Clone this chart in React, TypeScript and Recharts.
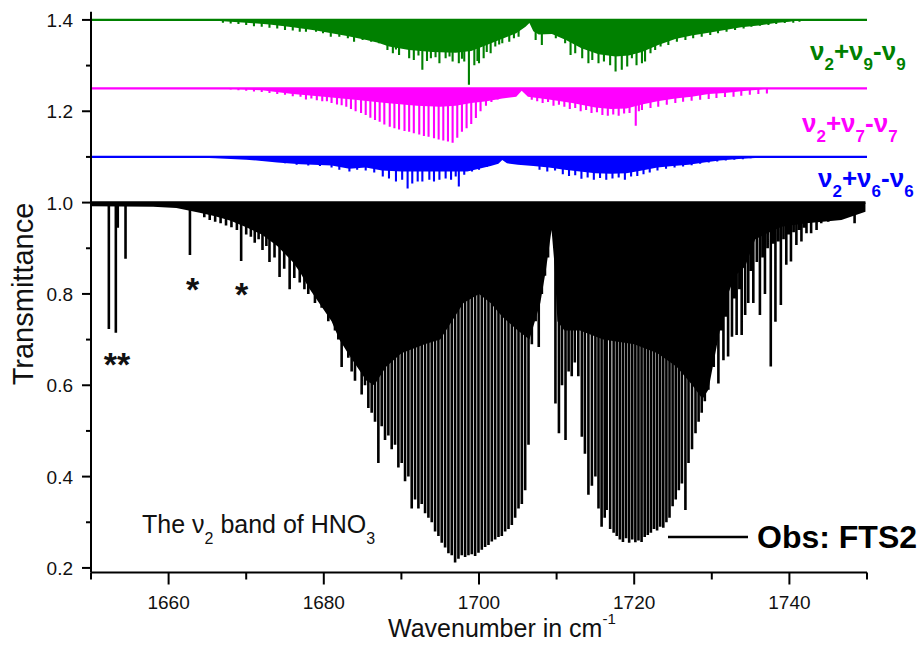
import React from 'react';
import { ComposedChart, Line, Area, XAxis, YAxis } from 'recharts';

const FONT = '"Liberation Sans", Arial, Helvetica, sans-serif';

// Axis ticks
const xTicks = [1650, 1660, 1670, 1680, 1690, 1700, 1710, 1720, 1730, 1740, 1750];
const xLabelled = [1660, 1680, 1700, 1720, 1740];
const yTicks = [0.2, 0.3, 0.4, 0.5, 0.6, 0.7, 0.8, 0.9, 1.0, 1.1, 1.2, 1.3, 1.4];
const yLabelled = [0.2, 0.4, 0.6, 0.8, 1.0, 1.2, 1.4];

// Offsets of each trace
const obsBase = 1.0;
const nu9Base = 1.4;
const nu7Base = 1.25;
const nu6Base = 1.1;

// Observed FTS2 spectrum: blended (unresolved) absorption floor [wavenumber, transmittance]
const obsFloor: [number, number][] = [
  [1650, 0.992], [1658, 0.991], [1661, 0.988], [1664, 0.978], [1666, 0.97], [1668, 0.96],
  [1670, 0.946], [1672, 0.93], [1674, 0.905], [1676, 0.87], [1677, 0.846], [1678, 0.815],
  [1679, 0.79], [1681, 0.74], [1682, 0.7], [1683.3, 0.665], [1685.5, 0.61], [1686.5, 0.6],
  [1688, 0.64], [1690, 0.67], [1693, 0.69], [1695, 0.7], [1696.5, 0.74], [1698, 0.78],
  [1700, 0.8], [1701.5, 0.78], [1703, 0.75], [1705, 0.72], [1706.5, 0.7], [1707.2, 0.74],
  [1707.9, 0.78], [1708.6, 0.85], [1709.35, 0.94], [1709.75, 0.86], [1710.1, 0.74],
  [1711, 0.72], [1713, 0.72], [1716, 0.7], [1720, 0.69], [1723, 0.67], [1725.5, 0.64],
  [1727.5, 0.6], [1728.8, 0.57], [1729.56, 0.59], [1730.85, 0.705], [1732.1, 0.8],
  [1733, 0.84], [1734.3, 0.86], [1735.6, 0.92], [1737.3, 0.934], [1739, 0.947],
  [1742.2, 0.955], [1746.7, 0.962], [1749.8, 0.98],
];

// Observed spectrum: individual line minima [wavenumber, transmittance]
const obsLines: [number, number][] = [
  [1652.3, 0.723], [1653.2, 0.715], [1653.45, 0.945], [1654.45, 0.877], [1662.75, 0.885],
  [1664.6, 0.968], [1665.3, 0.962], [1666.0, 0.958], [1666.7, 0.955], [1667.4, 0.95],
  [1668.1, 0.946], [1668.8, 0.94], [1669.35, 0.872], [1670.0, 0.93], [1670.6, 0.925],
  [1671.1, 0.912], [1671.6, 0.92], [1672.1, 0.896], [1672.6, 0.905], [1673.0, 0.87],
  [1673.65, 0.88], [1674.3, 0.837], [1674.9, 0.855], [1675.6, 0.81], [1676.2, 0.835],
  [1676.9, 0.825], [1677.5, 0.81],
  // P branch
  [1678.0, 0.8], [1678.43, 0.84], [1678.86, 0.78], [1679.29, 0.82], [1679.72, 0.77],
  [1680.15, 0.8], [1680.58, 0.74], [1681.01, 0.78], [1681.44, 0.72], [1681.87, 0.7],
  [1682.3, 0.64], [1682.73, 0.69], [1683.16, 0.66], [1683.59, 0.63], [1684.02, 0.61],
  [1684.45, 0.64], [1684.88, 0.58], [1685.31, 0.6], [1685.74, 0.55], [1686.17, 0.54],
  [1686.6, 0.52], [1687.03, 0.43], [1687.46, 0.51], [1687.89, 0.48], [1688.32, 0.49],
  [1688.75, 0.46], [1689.18, 0.47], [1689.61, 0.42], [1690.04, 0.43], [1690.47, 0.39],
  [1690.9, 0.4], [1691.33, 0.33], [1691.76, 0.35], [1692.19, 0.33], [1692.62, 0.34],
  [1693.05, 0.32], [1693.48, 0.31], [1693.91, 0.3], [1694.34, 0.28], [1694.77, 0.27],
  [1695.2, 0.255], [1695.63, 0.245], [1696.06, 0.232], [1696.49, 0.228], [1696.92, 0.212],
  [1697.35, 0.22], [1697.78, 0.228], [1698.21, 0.224], [1698.64, 0.228], [1699.07, 0.23],
  [1699.5, 0.226], [1699.93, 0.233], [1700.36, 0.24], [1700.79, 0.246], [1701.22, 0.25],
  [1701.65, 0.258], [1702.08, 0.262], [1702.51, 0.268], [1702.94, 0.27], [1703.37, 0.28],
  [1703.8, 0.285], [1704.23, 0.294], [1704.66, 0.31], [1705.09, 0.33], [1705.52, 0.34],
  [1705.95, 0.37], [1706.38, 0.47], [1706.81, 0.69], [1707.3, 0.74], [1707.7, 0.684],
  [1708.1, 0.8], [1708.5, 0.84], [1708.9, 0.88],
  // R branch
  [1709.85, 0.56], [1710.3, 0.495], [1710.7, 0.6], [1711.15, 0.48], [1711.55, 0.63],
  [1711.95, 0.62], [1712.35, 0.65], [1712.8, 0.62], [1713.25, 0.487], [1713.65, 0.45],
  [1714.1, 0.36], [1714.55, 0.38], [1715.0, 0.4], [1715.4, 0.33], [1715.8, 0.29],
  [1716.2, 0.31], [1716.45, 0.327], [1716.9, 0.285], [1717.35, 0.277], [1717.75, 0.27],
  [1718.15, 0.262], [1718.55, 0.257], [1718.95, 0.265], [1719.35, 0.255], [1719.75, 0.262],
  [1720.15, 0.256], [1720.55, 0.26], [1720.95, 0.257], [1721.35, 0.268], [1721.75, 0.272],
  [1722.15, 0.277], [1722.55, 0.285], [1722.95, 0.282], [1723.35, 0.29], [1723.75, 0.288],
  [1724.15, 0.3], [1724.55, 0.31], [1724.95, 0.335], [1725.35, 0.35], [1725.75, 0.37],
  [1726.15, 0.385], [1726.6, 0.327], [1727.0, 0.43], [1727.45, 0.46], [1727.9, 0.495],
  [1728.3, 0.52], [1728.7, 0.54], [1729.1, 0.565],
  [1729.56, 0.59], [1729.9, 0.66], [1730.25, 0.64], [1730.85, 0.604], [1731.2, 0.72],
  [1731.5, 0.655], [1731.8, 0.75], [1732.1, 0.663], [1732.6, 0.706], [1732.9, 0.79],
  [1733.2, 0.71], [1733.55, 0.81], [1733.85, 0.71], [1734.3, 0.754], [1734.7, 0.78],
  [1735.05, 0.85], [1735.35, 0.78], [1735.8, 0.87], [1736.2, 0.754], [1736.55, 0.88],
  [1736.85, 0.8], [1737.2, 0.9], [1737.6, 0.641], [1737.9, 0.91], [1738.2, 0.739],
  [1738.55, 0.915], [1738.9, 0.776], [1739.25, 0.92], [1739.6, 0.864], [1739.9, 0.93],
  [1740.2, 0.871], [1740.55, 0.935], [1740.9, 0.907], [1741.25, 0.94], [1741.55, 0.915],
  [1741.9, 0.945], [1742.2, 0.933], [1742.8, 0.933], [1743.5, 0.94], [1744.1, 0.955],
  [1744.6, 0.96], [1745.0, 0.958], [1745.4, 0.965], [1745.85, 0.962], [1746.3, 0.97],
  [1746.7, 0.966], [1747.1, 0.972], [1747.55, 0.969], [1748.0, 0.975], [1748.4, 0.955],
  [1748.8, 0.978], [1749.2, 0.98],
];

// Simulated v2+v9-v9 hot band (offset to 1.4)
const nu9Floor: [number, number][] = [
  [1650, 1.4], [1665, 1.4], [1667, 1.397], [1670, 1.394], [1673, 1.39], [1676, 1.384],
  [1679, 1.377], [1681, 1.371], [1683, 1.365], [1685.5, 1.356], [1687, 1.35], [1688.4, 1.342],
  [1691, 1.334], [1694, 1.33], [1697, 1.328], [1699, 1.332], [1701, 1.345], [1702.6, 1.356],
  [1704.8, 1.371], [1706, 1.385], [1706.5, 1.393], [1707, 1.375], [1707.7, 1.368],
  [1709.4, 1.369], [1711.2, 1.356], [1713.2, 1.338], [1715.4, 1.325], [1717.6, 1.32],
  [1719.3, 1.322], [1721, 1.33], [1723.1, 1.345], [1725.3, 1.358], [1727.4, 1.366],
  [1729.6, 1.372], [1731.7, 1.378], [1733.8, 1.384], [1736, 1.388], [1738.2, 1.393],
  [1740, 1.396], [1741.5, 1.4], [1750, 1.4],
];
const nu9Lines: [number, number][] = [
  [1667.0, 1.394], [1668.0, 1.392], [1669.0, 1.391], [1670.0, 1.389], [1671.0, 1.386],
  [1672.0, 1.385], [1673.0, 1.383], [1674.0, 1.381], [1675.0, 1.378], [1676.0, 1.377],
  [1676.9, 1.374], [1677.7, 1.374], [1679.0, 1.374], [1679.9, 1.371], [1680.9, 1.363],
  [1682.0, 1.363], [1683.1, 1.36], [1683.9, 1.352], [1685.0, 1.356], [1686.1, 1.352],
  [1687.1, 1.349], [1688.2, 1.334], [1688.9, 1.327], [1689.3, 1.335], [1689.7, 1.323],
  [1690.4, 1.342], [1691.0, 1.316], [1691.6, 1.312], [1692.2, 1.322], [1692.7, 1.291],
  [1693.3, 1.31], [1693.8, 1.316], [1694.4, 1.318], [1694.9, 1.305], [1695.7, 1.316],
  [1696.2, 1.32], [1696.6, 1.309], [1697.4, 1.305], [1697.8, 1.315], [1698.1, 1.309],
  [1698.7, 1.258], [1699.4, 1.301], [1699.8, 1.31], [1700.0, 1.305], [1700.6, 1.316],
  [1701.0, 1.33], [1701.5, 1.327], [1702.1, 1.342], [1702.6, 1.346], [1703.0, 1.349],
  [1703.9, 1.352], [1704.5, 1.36], [1705.1, 1.363],
  [1707.3, 1.356], [1708.1, 1.345], [1709.9, 1.36], [1711.1, 1.349], [1711.8, 1.323],
  [1712.4, 1.327], [1713.3, 1.316], [1714.1, 1.305], [1714.6, 1.312], [1715.4, 1.305],
  [1716.1, 1.309], [1716.9, 1.301], [1717.6, 1.287], [1718.4, 1.291], [1719.1, 1.298],
  [1719.7, 1.316], [1720.3, 1.301], [1721.0, 1.305], [1721.4, 1.309], [1722.1, 1.327],
  [1722.7, 1.334], [1723.4, 1.342], [1724.4, 1.345], [1725.5, 1.352], [1726.6, 1.356],
  [1727.6, 1.36], [1728.7, 1.363], [1729.8, 1.367], [1730.8, 1.371], [1731.9, 1.374],
  [1733.0, 1.378], [1734.1, 1.381], [1735.1, 1.385], [1736.2, 1.387], [1737.3, 1.389],
  [1738.3, 1.391], [1739.4, 1.393], [1740.5, 1.394], [1741.3, 1.396],
];

// Simulated v2+v7-v7 hot band (offset to 1.25)
const nu7Floor: [number, number][] = [
  [1650, 1.25], [1667, 1.25], [1672, 1.246], [1676, 1.238], [1680, 1.232], [1684, 1.225],
  [1688, 1.218], [1692, 1.212], [1695, 1.21], [1697, 1.212], [1699, 1.218], [1701, 1.222],
  [1703, 1.228], [1704.8, 1.232], [1705.5, 1.245], [1706.3, 1.232], [1709, 1.226],
  [1712, 1.218], [1715, 1.208], [1717, 1.205], [1719, 1.206], [1721, 1.215], [1723, 1.222],
  [1725.3, 1.228], [1727.4, 1.232], [1729.6, 1.238], [1731.7, 1.24], [1733.8, 1.244],
  [1736, 1.247], [1737.3, 1.25], [1750, 1.25],
];
const nu7Lines: [number, number][] = [
  [1668.0, 1.247], [1669.0, 1.246], [1670.0, 1.245], [1671.0, 1.243], [1672.0, 1.242],
  [1673.0, 1.24], [1674.0, 1.238], [1675.0, 1.236], [1676.0, 1.233], [1677.0, 1.232],
  [1677.7, 1.226], [1678.4, 1.228], [1679.1, 1.224], [1679.8, 1.222], [1680.4, 1.222],
  [1681.0, 1.218], [1681.7, 1.215], [1682.3, 1.213], [1682.9, 1.21], [1683.5, 1.205],
  [1684.1, 1.2], [1684.8, 1.196], [1685.4, 1.192], [1686.0, 1.186], [1686.6, 1.181],
  [1687.2, 1.177], [1687.8, 1.171], [1688.5, 1.166], [1689.1, 1.163], [1689.7, 1.16],
  [1690.4, 1.157], [1691.0, 1.155], [1691.6, 1.152], [1692.3, 1.149], [1692.9, 1.146],
  [1693.5, 1.144], [1694.2, 1.141], [1694.8, 1.138], [1695.4, 1.136], [1696.0, 1.134],
  [1696.6, 1.131], [1697.2, 1.142], [1697.8, 1.155], [1698.4, 1.163], [1699.0, 1.172],
  [1699.6, 1.185], [1700.2, 1.2], [1700.9, 1.212], [1701.6, 1.22], [1702.4, 1.226],
  [1703.2, 1.23], [1704.0, 1.234],
  [1706.8, 1.225], [1707.5, 1.222], [1708.2, 1.218], [1708.9, 1.22], [1709.6, 1.212],
  [1710.3, 1.214], [1711.0, 1.21], [1711.7, 1.205], [1712.4, 1.207], [1713.1, 1.2],
  [1713.8, 1.203], [1714.5, 1.196], [1715.2, 1.198], [1715.9, 1.192], [1716.6, 1.19],
  [1717.3, 1.193], [1718.0, 1.19], [1718.7, 1.195], [1719.4, 1.196], [1720.2, 1.168],
  [1720.6, 1.2], [1721.0, 1.203], [1722.1, 1.207], [1723.1, 1.21], [1724.2, 1.214],
  [1725.3, 1.218], [1726.3, 1.221], [1727.4, 1.223], [1728.5, 1.225], [1729.6, 1.227],
  [1730.6, 1.229], [1731.7, 1.231], [1732.8, 1.232], [1733.8, 1.234], [1734.9, 1.236],
  [1736.0, 1.238], [1737.1, 1.239],
];

// Simulated v2+v6-v6 hot band (offset to 1.1)
const nu6Floor: [number, number][] = [
  [1650, 1.1], [1662, 1.1], [1666, 1.097], [1670, 1.094], [1674, 1.088], [1677, 1.084],
  [1681, 1.081], [1683.3, 1.074], [1685.4, 1.077], [1687.5, 1.07], [1690, 1.068],
  [1693, 1.068], [1696, 1.068], [1698.5, 1.068], [1700, 1.074], [1701.5, 1.08],
  [1702.5, 1.085], [1703, 1.093], [1703.6, 1.086], [1705, 1.083], [1707, 1.08],
  [1709, 1.077], [1711, 1.072], [1713, 1.068], [1715, 1.064], [1717, 1.063], [1719, 1.064],
  [1721, 1.07], [1723, 1.077], [1725, 1.08], [1727, 1.083], [1729, 1.088], [1731, 1.092],
  [1733, 1.095], [1735, 1.097], [1737.3, 1.099], [1738, 1.1], [1750, 1.1],
];
const nu6Lines: [number, number][] = [
  [1672.0, 1.092], [1673.5, 1.09], [1675.0, 1.086], [1676.5, 1.083], [1678.0, 1.081],
  [1679.5, 1.08], [1681.0, 1.077], [1682.0, 1.072], [1683.3, 1.068], [1684.3, 1.072],
  [1685.4, 1.07], [1686.5, 1.066], [1687.6, 1.057], [1688.4, 1.053], [1689.3, 1.046],
  [1690.1, 1.05], [1690.8, 1.031], [1691.4, 1.042], [1692.1, 1.046], [1692.7, 1.046],
  [1693.6, 1.05], [1694.2, 1.046], [1694.9, 1.05], [1695.7, 1.053], [1696.4, 1.05],
  [1697.0, 1.057], [1697.4, 1.035], [1698.1, 1.061], [1699.1, 1.068], [1700.0, 1.072],
  [1701.0, 1.078],
  [1707.8, 1.072], [1708.8, 1.068], [1709.8, 1.07], [1710.8, 1.062], [1711.6, 1.058],
  [1712.4, 1.06], [1713.2, 1.052], [1714.0, 1.055], [1714.8, 1.05], [1715.6, 1.054],
  [1716.4, 1.05], [1717.2, 1.053], [1718.0, 1.055], [1718.8, 1.05], [1719.6, 1.057],
  [1720.4, 1.058], [1721.2, 1.062], [1722.0, 1.066], [1723.0, 1.07], [1724.1, 1.074],
  [1725.2, 1.077], [1726.3, 1.079], [1727.4, 1.082], [1728.5, 1.085], [1729.6, 1.088],
  [1730.7, 1.09], [1731.8, 1.092], [1732.9, 1.094], [1734.0, 1.095], [1735.0, 1.097],
  [1736.1, 1.098],
];

const GREEN = '#008000';
const MAGENTA = '#ff00ff';
const BLUE = '#0000ff';

// Range band between the blended absorption floor and the trace baseline
const bandData = (floor: [number, number][], base: number) =>
  floor.map(([x, t]) => ({ x, band: [t, base] }));

// Trace that drops from the baseline to each line minimum and back
const traceData = (lines: [number, number][], base: number, from: number, to: number) => {
  const sorted = [...lines].sort((a, b) => a[0] - b[0]);
  const pts: { x: number; y: number }[] = [{ x: from, y: base }];
  sorted.forEach(([x, t]) => {
    pts.push({ x, y: base }, { x, y: t }, { x, y: base });
  });
  pts.push({ x: to, y: base });
  return pts;
};

const XTick = (props: any) => {
  const { x, y, payload } = props;
  const major = xLabelled.includes(payload.value);
  return (
    <g>
      <line x1={x} x2={x} y1={y} y2={y + (major ? 12 : 7)} stroke="#000" strokeWidth={2} />
      {major && (
        <text x={x} y={y + 36.5} textAnchor="middle" fontSize={19} fontFamily={FONT} fill="#111">
          {payload.value}
        </text>
      )}
    </g>
  );
};

const YTick = (props: any) => {
  const { x, y, payload } = props;
  const v = Number(payload.value);
  const major = yLabelled.some((t) => Math.abs(t - v) < 1e-6);
  return (
    <g>
      <line x1={x - (major ? 9 : 5)} x2={x} y1={y} y2={y} stroke="#000" strokeWidth={2} />
      {major && (
        <text x={x - 18} y={y + 7} textAnchor="end" fontSize={19} fontFamily={FONT} fill="#111">
          {v.toFixed(1)}
        </text>
      )}
    </g>
  );
};

const BandLabel = ({ x, y, color, a, b }: { x: number; y: number; color: string; a: string; b: string }) => (
  <text x={x} y={y} fill={color} fontFamily={FONT} fontWeight="bold" fontSize={26}>
    ν
    <tspan fontSize={17} dy={10}>2</tspan>
    <tspan fontSize={26} dy={-10}>+ν</tspan>
    <tspan fontSize={17} dy={10}>{a}</tspan>
    <tspan fontSize={26} dy={-10}>-ν</tspan>
    <tspan fontSize={17} dy={10}>{b}</tspan>
  </text>
);

export default function App() {
  return (
    <div style={{ position: 'absolute', left: 0, top: 0, width: 924, height: 645, background: '#fff' }}>
      <ComposedChart width={924} height={645} margin={{ top: 11.7, right: 57, bottom: 0, left: 0 }}>
        <XAxis
          type="number"
          dataKey="x"
          domain={[1650, 1750]}
          ticks={xTicks}
          interval={0}
          allowDataOverflow
          height={72.5}
          tickSize={0}
          tickMargin={0}
          tickLine={false}
          tick={<XTick />}
          axisLine={{ stroke: '#000', strokeWidth: 2 }}
        />
        <YAxis
          type="number"
          domain={[0.19, 1.418]}
          ticks={yTicks}
          interval={0}
          allowDataOverflow
          width={91}
          tickSize={0}
          tickMargin={0}
          tickLine={false}
          tick={<YTick />}
          axisLine={{ stroke: '#000', strokeWidth: 2 }}
        />

        <Area data={bandData(obsFloor, obsBase)} dataKey="band" type="linear" stroke="none" fill="#000" fillOpacity={1} isAnimationActive={false} />
        <Line data={traceData(obsLines, obsBase, 1650, 1749.8)} dataKey="y" type="linear" stroke="#000" strokeWidth={2.6} dot={false} activeDot={false} isAnimationActive={false} />

        <Area data={bandData(nu6Floor, nu6Base)} dataKey="band" type="linear" stroke="none" fill={BLUE} fillOpacity={1} isAnimationActive={false} />
        <Line data={traceData(nu6Lines, nu6Base, 1650, 1750)} dataKey="y" type="linear" stroke={BLUE} strokeWidth={2.1} dot={false} activeDot={false} isAnimationActive={false} />

        <Area data={bandData(nu7Floor, nu7Base)} dataKey="band" type="linear" stroke="none" fill={MAGENTA} fillOpacity={1} isAnimationActive={false} />
        <Line data={traceData(nu7Lines, nu7Base, 1650, 1750)} dataKey="y" type="linear" stroke={MAGENTA} strokeWidth={2.1} dot={false} activeDot={false} isAnimationActive={false} />

        <Area data={bandData(nu9Floor, nu9Base)} dataKey="band" type="linear" stroke="none" fill={GREEN} fillOpacity={1} isAnimationActive={false} />
        <Line data={traceData(nu9Lines, nu9Base, 1650, 1750)} dataKey="y" type="linear" stroke={GREEN} strokeWidth={2.1} dot={false} activeDot={false} isAnimationActive={false} />

        <g fontFamily={FONT}>
          <text transform="translate(33,294) rotate(-90)" textAnchor="middle" fontSize={29} fill="#111">
            Transmittance
          </text>
          <text x={388} y={637} fontSize={25} fill="#111">
            Wavenumber in cm<tspan fontSize={15} dy={-13}>-1</tspan>
          </text>

          <BandLabel x={810} y={60} color={GREEN} a="9" b="9" />
          <BandLabel x={802} y={132} color={MAGENTA} a="7" b="7" />
          <BandLabel x={818} y={187} color={BLUE} a="6" b="6" />

          <text x={142} y={533} fontSize={25} fill="#111">
            The ν<tspan fontSize={16} dy={11}>2</tspan>
            <tspan dy={-11}> band of HNO</tspan>
            <tspan fontSize={16} dy={11}>3</tspan>
          </text>

          <text x={117} y={376} textAnchor="middle" fontSize={34} fontWeight="bold" fill="#111">**</text>
          <text x={192.5} y={301} textAnchor="middle" fontSize={34} fontWeight="bold" fill="#111">*</text>
          <text x={241.5} y={306} textAnchor="middle" fontSize={34} fontWeight="bold" fill="#111">*</text>

          <line x1={668} x2={748} y1={537} y2={537} stroke="#000" strokeWidth={2.5} />
          <text x={757} y={548} fontSize={32} fontWeight="bold" fill="#000">Obs: FTS2</text>
        </g>
      </ComposedChart>
    </div>
  );
}
